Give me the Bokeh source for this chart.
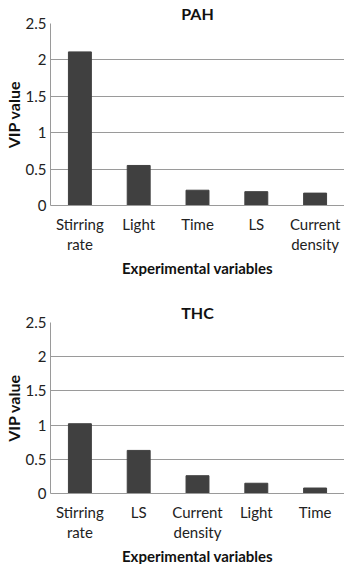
from bokeh.plotting import figure
from bokeh.layouts import column
from bokeh.models import FixedTicker, NumeralTickFormatter, ColumnDataSource, Title
from bokeh.embed import file_html
from bokeh.resources import INLINE

# PAH chart data
pah_categories = ["Stirring\nrate", "Light", "Time", "LS", "Current\ndensity"]
pah_values = [2.11, 0.55, 0.21, 0.19, 0.17]

# THC chart data
thc_categories = ["Stirring\nrate", "LS", "Current\ndensity", "Light", "Time"]
thc_values = [1.02, 0.63, 0.26, 0.15, 0.08]

y_ticks = [0, 0.5, 1, 1.5, 2, 2.5]

FONT = "Lato"
BAR = "#404040"
GRID = "#9a9a9a"


def make_chart(title, cats, vals, height, border_top):
    src = ColumnDataSource(dict(cat=cats, val=vals))
    p = figure(x_range=cats, y_range=(0, 2.5), width=344, height=height,
               output_backend="svg", toolbar_location=None,
               min_border_left=0, min_border_right=0,
               min_border_top=border_top, min_border_bottom=0)
    p.vbar(x="cat", top="val", width=0.39, source=src, color=BAR)
    p.title.text = title
    p.title.align = "center"
    p.title.text_font = FONT
    p.title.text_font_size = "16px"
    p.title.text_font_style = "bold"
    p.title.text_color = "#111111"
    p.title.standoff = 2
    p.outline_line_color = None
    p.background_fill_color = "white"

    p.xgrid.grid_line_color = None
    p.ygrid.grid_line_color = GRID
    p.ygrid.grid_line_width = 1

    p.yaxis.ticker = FixedTicker(ticks=y_ticks)
    p.yaxis.formatter = NumeralTickFormatter(format="0.[0]")
    p.yaxis.axis_label = "VIP value"
    for ax in (p.xaxis, p.yaxis):
        ax.axis_line_color = GRID
        ax.major_tick_line_color = None
        ax.minor_tick_line_color = None
        ax.major_tick_out = 0
        ax.major_tick_in = 0
        ax.major_label_text_font = FONT
        ax.major_label_text_font_size = "15px"
        ax.major_label_text_color = "#222222"
        ax.axis_label_text_font = FONT
        ax.axis_label_text_font_size = "16px"
        ax.axis_label_text_font_style = "bold"
        ax.axis_label_text_color = "#111111"
    p.xaxis.major_label_text_line_height = 1.15
    p.yaxis.major_label_standoff = 4
    p.yaxis.axis_label_standoff = 0
    p.xaxis.major_label_standoff = 9

    xt = Title(text="Experimental variables", align="center", text_font=FONT,
               text_font_size="15px", text_font_style="bold",
               text_color="#111111", standoff=0, text_line_height=1.0)
    p.add_layout(xt, "below")
    p.x_range.range_padding = 0
    return p


p1 = make_chart("PAH", pah_categories, pah_values, 276, 0)
p2 = make_chart("THC", thc_categories, thc_values, 288, 46)

layout = column(p1, p2, spacing=0)
open("out.html", "w").write(file_html(layout, INLINE))
